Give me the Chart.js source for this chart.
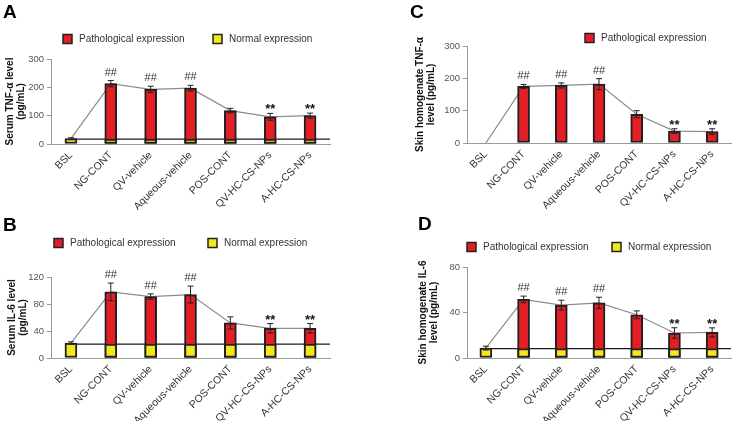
<!DOCTYPE html>
<html>
<head>
<meta charset="utf-8">
<script src="https://cdn.jsdelivr.net/npm/chart.js@4.4.1/dist/chart.umd.min.js"></script>
<style>
  html, body { margin: 0; padding: 0; background: #fff; }
  #wrap { position: relative; width: 734px; height: 421px; }
  canvas { position: absolute; }
</style>
</head>
<body>
<div id="wrap">
  <canvas id="chartA" width="367" height="210" style="left:0;top:0"></canvas>
  <canvas id="chartC" width="367" height="210" style="left:367px;top:0"></canvas>
  <canvas id="chartB" width="367" height="211" style="left:0;top:210px"></canvas>
  <canvas id="chartD" width="367" height="211" style="left:367px;top:210px"></canvas>
</div>
<script>
const groups = ['BSL', 'NG-CONT', 'QV-vehicle', 'Aqueous-vehicle', 'POS-CONT', 'QV-HC-CS-NPs', 'A-HC-CS-NPs'];
const marks = ['', '##', '##', '##', '', '**', '**'];

// A: serum TNF-alpha (pg/mL)
const serumTnfPatho = [null, 213, 193, 197, 118, 96, 100];
const serumTnfNormal = [19, 17, 17, 17, 17, 17, 17];
const serumTnfBaseline = 17;
const serumTnfErr = [3, 11, 11, 10, 8, 12, 9];
const serumTnfMax = 300, serumTnfStep = 100;

// B: serum IL-6 (pg/mL)
const serumIl6Patho = [null, 98, 91, 94, 52, 44, 44];
const serumIl6Normal = [22, 20.5, 20.5, 20.5, 20.5, 20.5, 20.5];
const serumIl6Baseline = 20.5;
const serumIl6Err = [2, 13, 4, 12.5, 9, 7, 7];
const serumIl6Max = 120, serumIl6Step = 40;

// C: skin homogenate TNF-alpha (pg/mL)
const skinTnfPatho = [0, 175, 178, 182, 89, 37, 35];
const skinTnfErr = [0, 6, 8, 17, 11, 7, 9];
const skinTnfMax = 300, skinTnfStep = 100;

// D: skin homogenate IL-6 (pg/mL)
const skinIl6Patho = [null, 51.5, 46.5, 48.5, 38, 22, 22.5];
const skinIl6Normal = [8.7, 8.3, 8.3, 8.3, 8.3, 8.3, 8.3];
const skinIl6Baseline = 8.3;
const skinIl6Err = [1.7, 2.9, 4.3, 4.9, 3.4, 4.6, 4];
const skinIl6Max = 80, skinIl6Step = 40;

const FONT = "'Liberation Sans', Arial, Helvetica, sans-serif";
const RED = '#e31e24';
const YELLOW = '#f2e81d';

// baseline line, error bars, ## / ** marks, panel letter and legend
const panelDecor = {
    id: 'panelDecor',
    beforeDatasetsDraw(chart, args, opts) {
        if (opts.baseline == null) return;
        const { ctx, chartArea, scales } = chart;
        const y = scales.y.getPixelForValue(opts.baseline);
        ctx.save();
        ctx.strokeStyle = '#1a1a1a';
        ctx.lineWidth = 1.2;
        ctx.beginPath();
        ctx.moveTo(scales.x.getPixelForTick(0), y);
        ctx.lineTo(chartArea.right, y);
        ctx.stroke();
        ctx.restore();
    },
    afterDatasetsDraw(chart, args, opts) {
        const { ctx, scales } = chart;
        ctx.save();
        opts.tops.forEach((v, i) => {
            const e = opts.errors[i];
            const x = scales.x.getPixelForTick(i);
            const yTop = scales.y.getPixelForValue(v + e);
            if (e > 0) {
                const yLow = scales.y.getPixelForValue(v - e);
                ctx.strokeStyle = '#222';
                ctx.lineWidth = 1;
                ctx.beginPath();
                ctx.moveTo(x, yLow); ctx.lineTo(x, yTop);
                ctx.moveTo(x - 3, yTop); ctx.lineTo(x + 3, yTop);
                ctx.moveTo(x - 3, yLow); ctx.lineTo(x + 3, yLow);
                ctx.stroke();
            }
            if (marks[i]) {
                ctx.textAlign = 'center';
                ctx.textBaseline = 'alphabetic';
                if (marks[i] === '**') {
                    ctx.font = 'bold 13px ' + FONT;
                    ctx.fillStyle = '#111';
                    ctx.fillText(marks[i], x, yTop);
                } else {
                    ctx.font = '11px ' + FONT;
                    ctx.fillStyle = '#333';
                    ctx.fillText(marks[i], x, yTop - 5);
                }
            }
        });
        ctx.restore();
    },
    afterDraw(chart, args, opts) {
        const ctx = chart.ctx;
        ctx.save();
        ctx.font = 'bold 19px ' + FONT;
        ctx.fillStyle = '#000';
        ctx.textAlign = 'left';
        ctx.textBaseline = 'top';
        ctx.fillText(opts.letter, opts.letterX, opts.letterY);
        ctx.font = '10px ' + FONT;
        ctx.textBaseline = 'middle';
        opts.legend.forEach(item => {
            const ds = chart.data.datasets[item.dataset];
            ctx.fillStyle = ds.backgroundColor;
            ctx.fillRect(item.x, item.y - 4.5, 9, 9);
            ctx.strokeStyle = '#222';
            ctx.lineWidth = 1.5;
            ctx.strokeRect(item.x, item.y - 4.5, 9, 9);
            ctx.fillStyle = '#333';
            ctx.fillText(ds.label, item.x + 16, item.y + 0.5);
        });
        ctx.restore();
    }
};

function makePanel(id, p) {
    const tops = p.patho.map((v, i) => v ?? p.normal[i]);
    const bar = {
        type: 'bar',
        borderColor: '#231f20',
        borderWidth: 2,
        borderSkipped: false,
        barThickness: 12,
        grouped: false
    };
    const datasets = [
        { type: 'line', label: 'Mean', data: tops, borderColor: '#8c8c8c', borderWidth: 1.2,
          pointRadius: 0, tension: 0, order: 3 },
        Object.assign({ label: 'Pathological expression', data: p.patho, backgroundColor: RED, order: 2 }, bar)
    ];
    if (p.normal.some(v => v != null)) {
        datasets.push(Object.assign({ label: 'Normal expression', data: p.normal, backgroundColor: YELLOW, order: 1 }, bar));
    }

    return new Chart(document.getElementById(id), {
        data: { labels: groups, datasets: datasets },
        options: {
            responsive: false,
            animation: false,
            layout: { padding: { left: p.padLeft, right: p.padRight, top: p.padTop, bottom: 0 } },
            plugins: {
                legend: { display: false },
                tooltip: { enabled: false },
                panelDecor: {
                    baseline: p.baseline,
                    tops: tops,
                    errors: p.errors,
                    letter: p.letter,
                    letterX: p.letterX,
                    letterY: p.letterY,
                    legend: p.legend
                }
            },
            scales: {
                x: {
                    type: 'category',
                    offset: true,
                    grid: { display: true, drawOnChartArea: false, drawTicks: false },
                    border: { color: '#9a9a9a', width: 1 },
                    ticks: {
                        autoSkip: false, minRotation: 45, maxRotation: 45, padding: 5,
                        color: '#333', font: { family: FONT, size: 10.5 }
                    },
                    afterFit: s => { s.height = p.xHeight; }
                },
                y: {
                    min: 0,
                    max: p.max,
                    grid: { drawOnChartArea: false, drawTicks: true, tickLength: 4, color: '#9a9a9a' },
                    border: { color: '#9a9a9a', width: 1 },
                    ticks: { stepSize: p.step, padding: 3, color: '#555', font: { family: FONT, size: 9.5 } },
                    title: {
                        display: true,
                        text: p.title,
                        color: '#111',
                        font: { family: FONT, size: 10, weight: 'bold', lineHeight: 1.15 },
                        padding: { top: p.titlePad, bottom: 0 }
                    },
                    afterFit: s => { s.width = p.yWidth; }
                }
            }
        },
        plugins: [panelDecor]
    });
}

makePanel('chartA', {
    patho: serumTnfPatho, normal: serumTnfNormal, baseline: serumTnfBaseline, errors: serumTnfErr,
    max: serumTnfMax, step: serumTnfStep, title: ['Serum TNF-\u03b1 level', '(pg/mL)'],
    padLeft: 0, yWidth: 51, padRight: 37, padTop: 59, xHeight: 66, titlePad: 4,
    letter: 'A', letterX: 3, letterY: 3,
    legend: [{ dataset: 1, x: 63, y: 39 }, { dataset: 2, x: 213, y: 39 }]
});

makePanel('chartC', {
    patho: skinTnfPatho, normal: skinTnfPatho.map(() => null), baseline: null, errors: skinTnfErr,
    max: skinTnfMax, step: skinTnfStep, title: ['Skin homogenate TNF-\u03b1', 'level (pg/mL)'],
    padLeft: 44, yWidth: 56, padRight: 3, padTop: 46, xHeight: 67, titlePad: 3,
    letter: 'C', letterX: 43, letterY: 3,
    legend: [{ dataset: 1, x: 218, y: 38 }]
});

makePanel('chartB', {
    patho: serumIl6Patho, normal: serumIl6Normal, baseline: serumIl6Baseline, errors: serumIl6Err,
    max: serumIl6Max, step: serumIl6Step, title: ['Serum IL-6 level', '(pg/mL)'],
    padLeft: 0, yWidth: 51, padRight: 37, padTop: 67, xHeight: 63, titlePad: 6,
    letter: 'B', letterX: 3, letterY: 6,
    legend: [{ dataset: 1, x: 54, y: 33 }, { dataset: 2, x: 208, y: 33 }]
});

makePanel('chartD', {
    patho: skinIl6Patho, normal: skinIl6Normal, baseline: skinIl6Baseline, errors: skinIl6Err,
    max: skinIl6Max, step: skinIl6Step, title: ['Skin homogenate IL-6', 'level (pg/mL)'],
    padLeft: 44, yWidth: 56, padRight: 3, padTop: 57, xHeight: 63, titlePad: 6,
    letter: 'D', letterX: 51, letterY: 5,
    legend: [{ dataset: 1, x: 100, y: 37 }, { dataset: 2, x: 245, y: 37 }]
});
</script>
</body>
</html>
